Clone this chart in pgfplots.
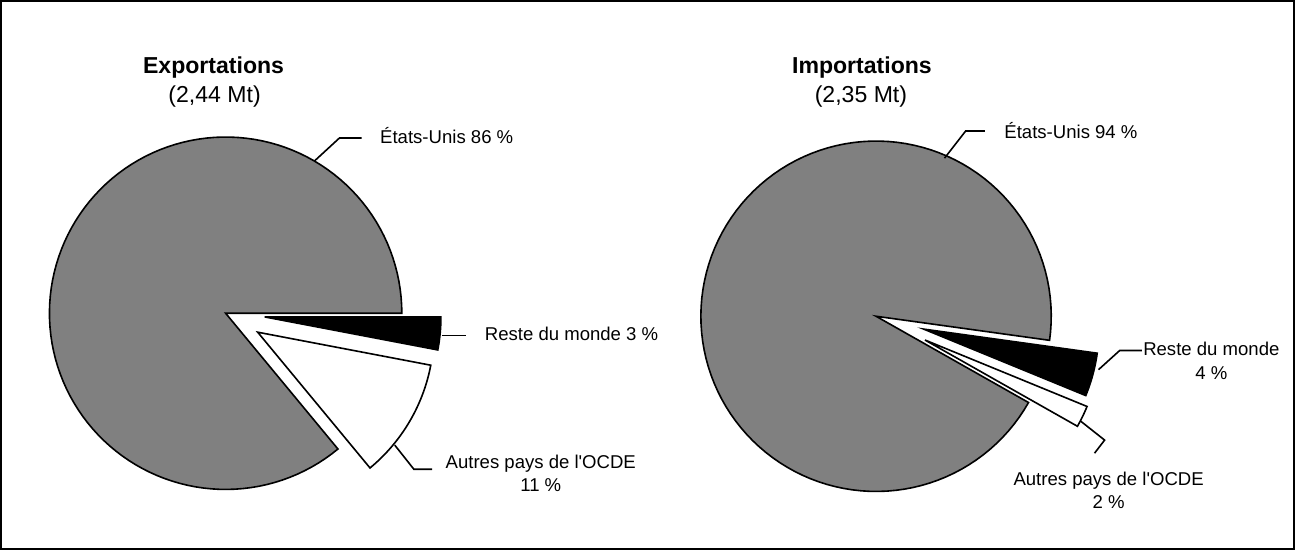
\documentclass[border=0pt]{standalone}
\usepackage{pgfplots}
\usepackage{pgfplotstable}
\pgfplotsset{compat=1.18}
\usepackage{fontspec}
\setmainfont{Liberation Sans}[Ligatures=TeXOff]

\definecolor{usgrey}{RGB}{128,128,128}

% share of each destination / origin (%), and how far its slice is pulled out (bp)
\pgfplotstableread{
part pct explode
RdM   3  39
OCDE 11  37
US   86   0
}\exportdata
\pgfplotstableread{
part pct explode
RdM   4  49
OCDE  2  54
US   94   0
}\importdata

% one slice, clockwise from \astart:
% #1 table, #2 row, #3 centre x, #4 centre y, #5 radius, #6 fill colour
\newcommand\pieslice[6]{%
  \pgfplotstablegetelem{#2}{pct}\of#1\let\pct\pgfplotsretval
  \pgfplotstablegetelem{#2}{explode}\of#1\let\expl\pgfplotsretval
  \pgfmathsetmacro\aend{\astart-3.6*\pct}%
  \pgfmathsetmacro\amid{(\astart+\aend)/2}%
  \pgfmathsetmacro\ox{#3+\expl*cos(\amid)}%
  \pgfmathsetmacro\oy{#4-\expl*sin(\amid)}%
  \edef\next{\noexpand\addplot[fill=#6,draw=black,line width=1.6bp,
      line join=miter,domain=\aend:\astart,samples=120,variable=\noexpand\t]
    ({\ox+#5*cos(\noexpand\t)},{\oy-#5*sin(\noexpand\t)})
    -- (axis cs:\ox,\oy) -- cycle;}%
  \next
  \global\let\astart\aend
}

\newcommand\labfont{\fontsize{18.5}{23.5}\selectfont}
\newcommand\titfont{\bfseries\fontsize{23}{28}\selectfont}

\begin{document}
\begin{tikzpicture}
\begin{axis}[
  width=1295bp, height=557bp, scale only axis,
  xmin=0, xmax=1295, ymin=0, ymax=557, y dir=reverse,
  hide axis, clip=false,
  every node/.style={inner sep=0pt},
]
% frame
\draw[line width=2.2bp] (axis cs:7,6) rectangle (axis cs:1291,550);

% exports pie
\gdef\astart{0}
\pieslice{\exportdata}{0}{230}{316}{175}{black}
\pieslice{\exportdata}{1}{230}{316}{175}{white}
\pieslice{\exportdata}{2}{230}{316}{175}{usgrey}

% imports pie
\gdef\astart{-7.9}
\pieslice{\importdata}{0}{876}{319}{174}{black}
\pieslice{\importdata}{1}{876}{319}{174}{white}
\pieslice{\importdata}{2}{876}{319}{174}{usgrey}

% leader lines
\addplot[black,line width=1.6bp] coordinates {(318,165) (343,142) (365,142)};
\addplot[black,line width=1.6bp] coordinates {(445,338) (469,338)};
\addplot[black,line width=1.6bp] coordinates {(398,447) (417,471) (435,471)};
\addplot[black,line width=1.6bp] coordinates {(944,162) (965,135) (984,135)};
\addplot[black,line width=1.6bp] coordinates {(1097,372) (1118,353) (1140,353)};
\addplot[black,line width=1.6bp] coordinates {(1079,423) (1103,442) (1093,455)};

% titles
\node[font=\titfont] at (axis cs:218,72) {Exportations};
\node[font=\titfont\mdseries] at (axis cs:219,101) {(2,44 Mt)};
\node[font=\titfont] at (axis cs:862,72) {Importations};
\node[font=\titfont\mdseries] at (axis cs:861,101) {(2,35 Mt)};

% slice labels
\node[font=\labfont,anchor=west] at (axis cs:380,140) {États-Unis 86~\%};
\node[font=\labfont,anchor=west] at (axis cs:484,336) {Reste du monde 3~\%};
\node[font=\labfont,align=center] at (axis cs:543,475) {Autres pays de l'OCDE\\11~\%};
\node[font=\labfont,anchor=west] at (axis cs:1000,135) {États-Unis 94~\%};
\node[font=\labfont,align=center] at (axis cs:1209,363) {Reste du monde\\4~\%};
\node[font=\labfont,align=center] at (axis cs:1107,492) {Autres pays de l'OCDE\\2~\%};
\end{axis}
\end{tikzpicture}
\end{document}
